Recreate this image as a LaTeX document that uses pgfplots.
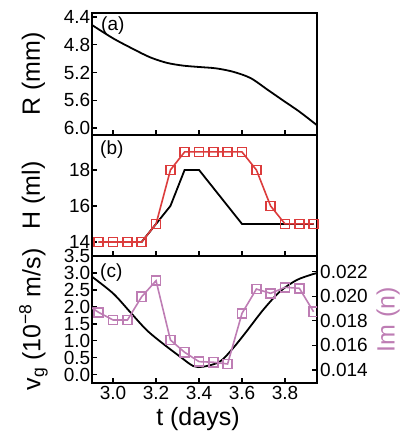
\documentclass[border=0pt]{standalone}
\usepackage{fontspec}
\setmainfont{Liberation Sans}
\usepackage{pgfplots}
\pgfplotsset{compat=1.18}
\definecolor{rd}{RGB}{220,60,60}
\definecolor{mv}{RGB}{190,125,180}
\pgfplotsset{
  base/.style={
    scale only axis, width=225pt,
    xmin=2.902, xmax=3.949,
    xtick={3.0,3.2,3.4,3.6,3.8},
    xtick pos=bottom, ytick pos=left,
    tick align=inside,
    major tick length=5pt,
    every tick/.style={black, line width=1.2pt},
    axis line style={line width=1.4pt},
    tick label style={font=\fontsize{19}{19}\selectfont},
    label style={font=\fontsize{25}{25}\selectfont},
    /pgf/number format/assume math mode=true,
    yticklabel style={inner sep=1.5pt},
    xticklabel style={/pgf/number format/fixed, /pgf/number format/precision=1, /pgf/number format/fixed zerofill},
    every axis y label/.style={at={(axis description cs:-0.26,0.5)}, rotate=90, anchor=center, font=\fontsize{25}{25}\selectfont},
  },
}
\tikzset{plab/.style={anchor=north west, font=\fontsize{19}{19}\selectfont, inner sep=0pt}}
\begin{document}
\begin{tikzpicture}
\path[use as bounding box] (-92pt,-55pt) rectangle (309pt,383pt);
% ---------- panel (a)
\begin{axis}[base, at={(0pt,248pt)}, anchor=south west, height=122pt,
  y dir=reverse, ymin=4.342, ymax=6.10, ytick={4.4,4.8,5.2,5.6,6.0},
  xticklabels={},
  yticklabel style={/pgf/number format/fixed, /pgf/number format/precision=1, /pgf/number format/fixed zerofill},
  ylabel={R (mm)}]
\addplot[black, line width=1.8pt, smooth] coordinates {
(2.902,4.515) (3.0,4.707) (3.093,4.86) (3.172,4.98) (3.25,5.06) (3.325,5.10)
(3.40,5.12) (3.48,5.14) (3.56,5.19) (3.64,5.28) (3.72,5.45) (3.79,5.60)
(3.87,5.77) (3.949,5.96)};
\node[plab] at (rel axis cs:0,1) [xshift=9pt, yshift=-4pt] {(a)};
\end{axis}
% ---------- panel (b)
\begin{axis}[base, at={(0pt,127pt)}, anchor=south west, height=121pt,
  ymin=13.22, ymax=19.94, ytick={14,16,18},
  xticklabels={},
  ylabel={H (ml)}]
\addplot[black, line width=1.8pt] coordinates {
(2.933,14) (3.133,14) (3.2,15) (3.267,16) (3.333,18) (3.4,18) (3.6,15) (3.933,15)};
\addplot[rd, line width=1.6pt, mark=square, mark size=4.6pt,
  mark options={fill=white, line width=1.6pt, solid}] coordinates {
(2.933,14) (3.0,14) (3.067,14) (3.133,14) (3.2,15) (3.267,18) (3.333,19)
(3.4,19) (3.467,19) (3.533,19) (3.6,19) (3.667,18) (3.733,16) (3.8,15)
(3.867,15) (3.933,15)};
\node[plab] at (rel axis cs:0,1) [xshift=8pt, yshift=-6pt] {(b)};
\end{axis}
% ---------- panel (c)
\begin{axis}[base, at={(0pt,0pt)}, anchor=south west, height=127pt,
  ymin=-0.24, ymax=3.5, ytick={0,0.5,1.0,1.5,2.0,2.5,3.0,3.5},
  yticklabel style={/pgf/number format/fixed, /pgf/number format/precision=1, /pgf/number format/fixed zerofill},
  xlabel={t (days)},
  xlabel style={at={(axis description cs:0.471,0)}, anchor=center, yshift=-36pt},
  ylabel={v\textsubscript{g} (10\textsuperscript{−8} m/s)}]
\addplot[black, line width=1.8pt, smooth] coordinates {
(2.902,2.89) (3.0,2.40) (3.078,1.86) (3.156,1.32) (3.234,0.91) (3.311,0.54)
(3.373,0.26) (3.42,0.24) (3.497,0.39) (3.559,0.79) (3.62,1.27) (3.698,1.91)
(3.776,2.45) (3.854,2.79) (3.932,2.97) (3.949,2.99)};
\node[plab] at (rel axis cs:0,1) [xshift=8pt, yshift=-8pt] {(c)};
\end{axis}
\begin{axis}[base, at={(0pt,0pt)}, anchor=south west, height=127pt,
  axis x line=none, axis y line*=right, ytick pos=right,
  ymin=0.01294, ymax=0.02328, ytick={0.014,0.016,0.018,0.020,0.022},
  scaled y ticks=false,
  yticklabel style={inner sep=3pt, /pgf/number format/fixed, /pgf/number format/precision=3, /pgf/number format/fixed zerofill},
  clip marker paths=true,
  every axis y label/.style={at={(axis description cs:1.316,0.5)}, rotate=90, anchor=center, font=\fontsize{25}{25}\selectfont},
  ylabel={\color{mv}Im (n)}]
\addplot[mv, line width=1.6pt, mark=square, mark size=4.6pt,
  mark options={fill=white, line width=1.6pt, solid}] coordinates {
(2.867,0.01945) (2.933,0.01869) (3.0,0.01807) (3.067,0.01807) (3.133,0.01996)
(3.2,0.02127) (3.267,0.01644) (3.333,0.01544) (3.4,0.01468) (3.467,0.01463)
(3.533,0.01449) (3.6,0.01861) (3.667,0.02059) (3.733,0.02024) (3.8,0.02073)
(3.867,0.02065) (3.933,0.01874)};
\end{axis}
\end{tikzpicture}
\end{document}
